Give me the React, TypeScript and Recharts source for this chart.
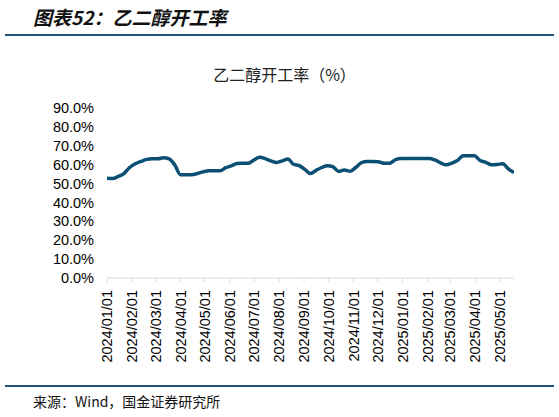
import React from 'react';
import { LineChart, Line, XAxis, YAxis } from 'recharts';

// weekly ethylene glycol operating rate, %, first week 2024/01/01
const startDate = [2024, 0, 1];
const rateValues = [
  52.8, 52.7, 53.8, 55.3, 58.5, 60.5, 61.7, 62.8, 63.1, 63.1,
  63.7, 63.1, 59.8, 54.7, 54.7, 54.7, 55.3, 56.2, 56.8, 56.8,
  56.8, 58.4, 59.4, 60.6, 60.8, 60.8, 62.5, 63.9, 63.2, 62.0,
  61.2, 62.0, 63.0, 60.2, 59.5, 57.5, 55.3, 57.0, 58.5, 59.4,
  58.8, 56.4, 57.2, 56.5, 58.5, 61.0, 61.7, 61.7, 61.5, 60.8,
  60.7, 62.6, 63.3, 63.3, 63.3, 63.3, 63.3, 63.3, 62.5, 61.0,
  59.9, 60.8, 62.2, 64.7, 64.7, 64.7, 62.2, 61.2, 60.0, 60.1,
  60.5, 57.8, 55.8,
];
const monthTicks = [
  '2024/01/01', '2024/02/01', '2024/03/01', '2024/04/01', '2024/05/01',
  '2024/06/01', '2024/07/01', '2024/08/01', '2024/09/01', '2024/10/01',
  '2024/11/01', '2024/12/01', '2025/01/01', '2025/02/01', '2025/03/01',
  '2025/04/01', '2025/05/01',
];
const yTicks = [0, 10, 20, 30, 40, 50, 60, 70, 80, 90];

const DAY = 86400000;
const toTime = (s: string) => {
  const [y, m, d] = s.split('/').map(Number);
  return Date.UTC(y, m - 1, d);
};
const pad = (n: number) => (n < 10 ? '0' + n : '' + n);
const fmtDate = (t: number) => {
  const d = new Date(t);
  return `${d.getUTCFullYear()}/${pad(d.getUTCMonth() + 1)}/${pad(d.getUTCDate())}`;
};

const t0 = Date.UTC(startDate[0], startDate[1], startDate[2]);
const data = rateValues.map((v, i) => ({ t: t0 + i * 7 * DAY, v }));
const xTicks = monthTicks.map(toTime);

const DateTick = ({ x, y, payload }: any) => (
  <g transform={`translate(${x},${y})`}>
    <text
      transform='rotate(-90)'
      x={-6}
      y={0}
      dy='0.36em'
      textAnchor='end'
      fill='#000'
      fontSize={14.5}
      fontFamily='"Liberation Sans", Arial, sans-serif'
    >
      {fmtDate(payload.value)}
    </text>
  </g>
);

const App = () => {
  return (
    <div
      style={{
        position: 'absolute',
        left: 0,
        top: 0,
        width: 559,
        height: 417,
        background: '#fff',
        overflow: 'hidden',
      }}
    >
      <div
        style={{
          position: 'absolute',
          left: 33,
          top: 3,
          fontSize: 19,
          fontWeight: 'bold',
          fontStyle: 'italic',
          fontFamily: '"Noto Sans CJK SC", sans-serif',
          color: '#111',
          whiteSpace: 'nowrap',
        }}
      >
        图表52：乙二醇开工率
      </div>
      <div
        style={{
          position: 'absolute',
          left: 5,
          top: 34,
          width: 549,
          height: 2,
          background: '#24557d',
        }}
      />
      <div
        style={{
          position: 'absolute',
          left: 0,
          width: 559,
          top: 62,
          textAlign: 'center',
          fontSize: 16,
          fontFamily: '"Noto Sans CJK SC", sans-serif',
          color: '#222',
          paddingLeft: 10,
          boxSizing: 'border-box',
        }}
      >
        乙二醇开工率（%）
      </div>
      <div style={{ position: 'absolute', left: 0, top: 0 }}>
        <LineChart
          width={559}
          height={417}
          data={data}
          margin={{ top: 108, right: 45, left: 0, bottom: 39 }}
        >
          <XAxis
            dataKey='t'
            type='number'
            scale='time'
            domain={[data[0].t, data[data.length - 1].t]}
            ticks={xTicks}
            interval={0}
            height={100}
            stroke='#d9d9d9'
            tickLine={{ stroke: '#d9d9d9' }}
            tickSize={4}
            tickMargin={2}
            tick={<DateTick />}
            allowDataOverflow
          />
          <YAxis
            type='number'
            domain={[0, 90]}
            ticks={yTicks}
            interval={0}
            width={107}
            axisLine={false}
            tickLine={false}
            tickSize={0}
            tickMargin={13}
            tickFormatter={(v: number) => v.toFixed(1) + '%'}
            tick={{
              fill: '#000',
              fontSize: 14.5,
              fontFamily: '"Liberation Sans", Arial, sans-serif',
            }}
          />
          <Line
            type='monotone'
            dataKey='v'
            stroke='#0b4f75'
            strokeWidth={3.5}
            dot={false}
            isAnimationActive={false}
          />
        </LineChart>
      </div>
      <div
        style={{
          position: 'absolute',
          left: 5,
          top: 385,
          width: 549,
          height: 2,
          background: '#24557d',
        }}
      />
      <div
        style={{
          position: 'absolute',
          left: 33,
          top: 391,
          fontSize: 14,
          fontFamily: '"Noto Sans CJK SC", sans-serif',
          color: '#111',
          whiteSpace: 'nowrap',
        }}
      >
        来源：Wind，国金证券研究所
      </div>
    </div>
  );
};

export default App;
